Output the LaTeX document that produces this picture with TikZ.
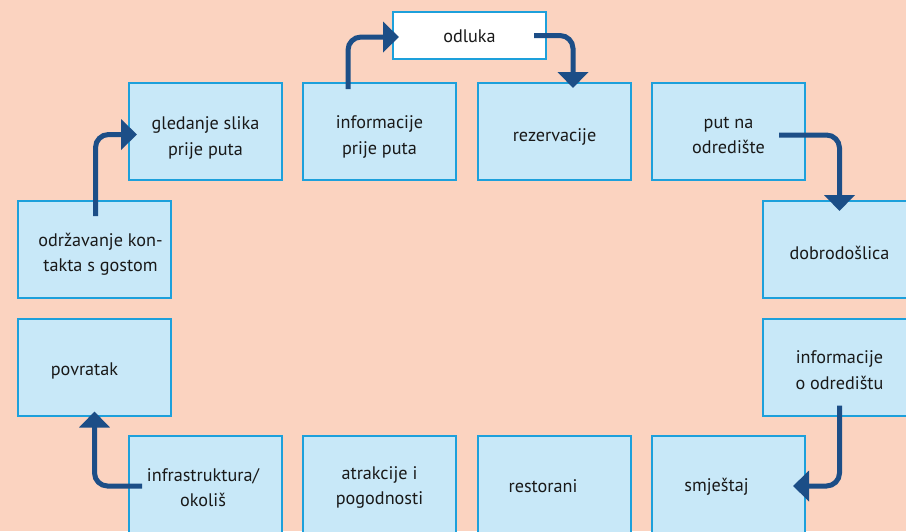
\documentclass[tikz,border=0pt]{standalone}
\usepackage{fontspec}
\setmainfont{PT Sans}
\usetikzlibrary{arrows.meta}
\definecolor{bgpeach}{RGB}{251,211,192}
\definecolor{boxfill}{RGB}{200,232,248}
\definecolor{boxline}{RGB}{29,160,219}
\definecolor{flowblue}{RGB}{28,78,135}
\definecolor{txtcol}{RGB}{25,25,25}
\tikzset{
  box/.style={rectangle, draw=boxline, fill=boxfill, line width=2pt, minimum width=153pt, minimum height=97pt, inner sep=0pt},
  topbox/.style={rectangle, draw=boxline, fill=white, line width=2pt, minimum width=153pt, minimum height=47pt, inner sep=0pt},
  lbl/.style={text=txtcol, align=center, font=\fontsize{18.2pt}{25.5pt}\selectfont, inner sep=0pt},
  flow/.style={draw=flowblue, line width=5pt, rounded corners=13pt, -{Triangle[length=16pt,width=30pt]}}
}
\begin{document}
\begin{tikzpicture}[x=1pt,y=-1pt]
\useasboundingbox (0,0) rectangle (906,531);
\clip (0,0) rectangle (906,531);
\fill[bgpeach] (0,0) rectangle (906,531);
% boxes
\node[topbox] (odluka) at (469.5,35.5) {};
\node[box] (gled) at (205.5,131.5) {};
\node[box] (info) at (379.5,131.5) {};
\node[box] (rez) at (554.5,131.5) {};
\node[box] (put) at (728.5,131.5) {};
\node[box] (odrz) at (94.5,249.5) {};
\node[box] (dobro) at (839.5,249.5) {};
\node[box] (povr) at (94.5,367) {};
\node[box] (infod) at (839.5,367) {};
\node[box] (infra) at (205.5,484.5) {};
\node[box] (atr) at (379.5,484.5) {};
\node[box] (rest) at (554.5,484.5) {};
\node[box] (smj) at (728.5,484.5) {};
% labels
\node[lbl] (t-odluka) at ([yshift=-1pt]odluka.center) {odluka};
\node[lbl] (t-gled) at ([yshift=-6.5pt]gled.center) {gledanje slika\\prije puta};
\node[lbl] (t-info) at ([yshift=-5.5pt]info.center) {informacije\\prije puta};
\node[lbl] (t-rez) at ([yshift=-5pt]rez.center) {rezervacije};
\node[lbl] (t-put) at ([yshift=-4pt]put.center) {put na\\odredište};
\node[lbl] (t-odrz) at ([xshift=6pt,yshift=-5pt]odrz.center) {održavanje kon-\\takta s gostom};
\node[lbl] (t-dobro) at ([yshift=-3pt]dobro.center) {dobrodošlica};
\node[lbl] (t-povr) at ([xshift=-10pt,yshift=-4pt]povr.center) {povratak};
\node[lbl] (t-infod) at ([yshift=-3pt]infod.center) {informacije\\o odredištu};
\node[lbl] (t-infra) at ([xshift=-2.5pt,yshift=-3pt]infra.center) {infrastruktura/\\okoliš};
\node[lbl] (t-atr) at ([yshift=-3pt]atr.center) {atrakcije i\\pogodnosti};
\node[lbl] (t-rest) at ([xshift=-11.5pt,yshift=-2pt]rest.center) {restorani};
\node[lbl] (t-smj) at ([xshift=-12pt,yshift=-2pt]smj.center) {smještaj};
% connectors
\draw[flow] ([xshift=1pt,yshift=-16pt]odrz.north) |- ([xshift=9pt,yshift=-3pt]gled.west);
\draw[flow] ([xshift=-31.5pt,yshift=-7pt]info.north) |- ([xshift=7pt,yshift=-1.5pt]odluka.west);
\draw[flow] ([xshift=-13pt]odluka.east) -| ([xshift=18.5pt,yshift=-6pt]rez.north);
\draw[flow] ([xshift=-27pt,yshift=-3.5pt]put.east) -| ([yshift=-11pt]dobro.north);
\draw[flow] ([yshift=11pt]infod.south) |- ([xshift=-13pt,yshift=-1.5pt]smj.east);
\draw[flow] ([xshift=14pt,yshift=-1.5pt]infra.west) -| ([yshift=5pt]povr.south);
\end{tikzpicture}
\end{document}
